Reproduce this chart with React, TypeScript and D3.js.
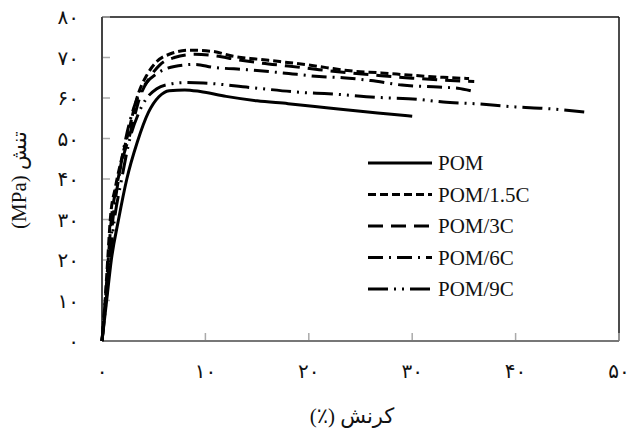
import React from "react";
import * as d3 from "d3";

// strain (%) , stress (MPa)
const pom = [[0, 0], [0.45, 10], [0.9, 20], [1.6, 30], [2.4, 40], [3.4, 49], [4.5, 56.5], [5.5, 60.3], [6.5, 61.8], [8, 62], [9.5, 61.6], [12, 60.4], [15, 59.3], [18, 58.6], [21.7, 57.6], [25, 56.7], [28, 56], [30, 55.5]];
const pom15 = [[0, 0], [0.3, 10], [0.55, 20], [0.8, 30], [1.3, 38], [1.9, 45], [2.5, 51], [3.5, 61], [4.3, 65.5], [5.3, 69], [6.5, 70.8], [8.5, 71.8], [10.7, 71.5], [12.7, 70.3], [15, 69.6], [17.2, 69], [19.8, 68.2], [21.7, 67.5], [24, 66.7], [27, 66.2], [30, 65.6], [33, 65.1], [35.5, 64.8]];
const pom3 = [[0, 0], [0.32, 10], [0.6, 20], [0.9, 30], [1.4, 38], [2, 45], [2.7, 51], [3.7, 60.5], [4.6, 65], [5.6, 68.2], [7, 70], [9, 70.8], [11, 70.4], [13, 69.5], [15.5, 68.6], [18, 67.9], [21, 67], [24, 66.2], [27, 65.5], [30, 64.9], [33, 64.4], [36, 64.1]];
const pom6 = [[0, 0], [0.35, 10], [0.7, 20], [1.05, 30], [1.6, 40], [2.3, 50], [3.2, 58.5], [4.2, 63.5], [5.3, 66], [7, 67.8], [9, 68.3], [10.7, 67.6], [14, 67], [17.5, 66.2], [21, 65.3], [23.3, 65], [26, 64.3], [29, 63.2], [32.5, 62.7], [34.4, 62.4], [35.8, 61.7]];
const pom9 = [[0, 0], [0.4, 10], [0.75, 20], [1.2, 30], [1.9, 40], [2.7, 50], [3.5, 56], [4.2, 59.5], [5.3, 62.3], [6.5, 63.4], [8, 63.8], [9.8, 63.7], [14.3, 62.6], [19.8, 61.3], [21.5, 61.1], [27, 60.1], [30.5, 59.7], [33, 59], [36, 58.6], [40, 57.8], [43, 57.4], [47.2, 56.4]];

const seriesNames = ["POM", "POM/1.5C", "POM/3C", "POM/6C", "POM/9C"];
const seriesData = [pom, pom15, pom3, pom6, pom9];
const dashes = ["none", "8,4", "15,8", "15,6,2,6", "20,6,2,6,2,6"];

const xTicks = [0, 10, 20, 30, 40, 50];
const yTicks = [0, 10, 20, 30, 40, 50, 60, 70, 80];

const faDigits = (n: number) => String(n).replace(/\d/g, (d) => "۰۱۲۳۴۵۶۷۸۹"[+d]);

const W = 630, H = 431;
const left = 102, right = 619, top = 17, bottom = 341;
const font = "'Liberation Serif', 'DejaVu Sans', serif";

export default function App() {
  const x = d3.scaleLinear().domain([0, 50]).range([left, right]);
  const y = d3.scaleLinear().domain([0, 80]).range([bottom, top]);
  const line = d3.line<number[]>()
    .x((d) => x(d[0]))
    .y((d) => y(d[1]))
    .curve(d3.curveMonotoneX);

  return (
    <svg width={W} height={H} style={{ position: "absolute", left: 0, top: 0, background: "#fff" }}>
      {/* frame */}
      <line x1={left} y1={top} x2={right} y2={top} stroke="#111" strokeWidth={1.5} />
      <line x1={right} y1={top} x2={right} y2={bottom} stroke="#111" strokeWidth={1.5} />

      {yTicks.map((t) => (
        <g key={"y" + t}>
          <line x1={left} x2={left + 8} y1={y(t)} y2={y(t)} stroke="#aaa" strokeWidth={1.5} />
          <text x={79} y={y(t)} dy="0.35em" textAnchor="end" fontFamily={font} fontSize={20} fill="#111">
            {faDigits(t)}
          </text>
        </g>
      ))}
      {xTicks.map((t) => (
        <g key={"x" + t}>
          <line x1={x(t)} x2={x(t)} y1={bottom} y2={bottom - 8} stroke="#aaa" strokeWidth={1.5} />
          <text x={x(t)} y={378} textAnchor="middle" fontFamily={font} fontSize={20} fill="#111">
            {faDigits(t)}
          </text>
        </g>
      ))}
      <line x1={left} y1={top} x2={left} y2={bottom} stroke="#444" strokeWidth={2} />
      <line x1={left} y1={bottom} x2={right} y2={bottom} stroke="#777" strokeWidth={2} />

      {seriesData.map((s, i) => (
        <path key={seriesNames[i]} d={line(s) || ""} fill="none" stroke="#000"
          strokeWidth={3} strokeDasharray={dashes[i]} />
      ))}

      {/* legend */}
      {seriesNames.map((n, i) => (
        <g key={"lg" + n} transform={`translate(0,${163 + i * 31.5})`}>
          <line x1={368} x2={432} y1={0} y2={0} stroke="#000" strokeWidth={3} strokeDasharray={dashes[i]} />
          <text x={438} y={0} dy="0.35em" fontFamily={font} fontSize={21} fill="#111">{n}</text>
        </g>
      ))}

      <text transform="translate(26,180) rotate(-90)" textAnchor="middle" fontFamily={font} fontSize={21} fill="#111">
        (MPa) تنش
      </text>
      <text x={352} y={423} textAnchor="middle" fontFamily={font} fontSize={21} fill="#111">
        (٪) کرنش
      </text>
    </svg>
  );
}
